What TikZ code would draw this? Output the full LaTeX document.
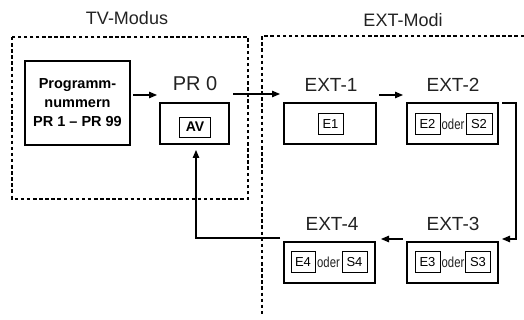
\documentclass[tikz,border=0pt]{standalone}
\usepackage{fontspec}
\setmainfont{Liberation Sans}
\newfontfamily\narrowfont[FakeStretch=0.78]{Liberation Sans}
\usetikzlibrary{arrows.meta}
\definecolor{ink}{HTML}{222222}
\tikzset{
  x=1pt,y=-1pt,
  title/.style={font=\fontsize{18}{20}\selectfont, text=ink, inner sep=0},
  lbl/.style={font=\fontsize{19}{21}\selectfont, text=ink, inner sep=0},
  outer/.style={draw, line width=1.2pt, minimum height=41pt, inner sep=0},
  inner/.style={draw, line width=0.9pt, minimum height=21pt, inner sep=0, font=\fontsize{13}{14}\selectfont},
  oder/.style={inner sep=0, font=\narrowfont\fontsize{14.5}{15}\selectfont, text=ink},
  dsh/.style={line width=1.3pt, dash pattern=on 3.5pt off 2.6pt},
  arr/.style={line width=1.1pt, -{Triangle[length=8pt,width=6.5pt]}},
}
\begin{document}
\begin{tikzpicture}
\useasboundingbox (0,0) rectangle (524,320);
% titles
\node[title] (tvt) at (127,18) {TV-Modus};
\node[title] (extt) at (403,20) {EXT-Modi};
% dashed regions
\draw[dsh] (12,37) rectangle (248,199);
\draw[dsh] (524,36) -- (262,36) -- (262,316);
% program numbers
\node[draw, line width=1.2pt, minimum width=105pt, minimum height=84pt, inner sep=0,
  align=center, font=\bfseries\fontsize{14.5}{19}\selectfont] (prog) at (77.5,103)
  {Programm-\\nummern\\PR 1 -- PR 99};
% PR 0
\node[lbl, font=\fontsize{20}{22}\selectfont] (pr0l) at (195,84) {PR 0};
\node[outer, minimum width=69pt] (pr0) at (194.5,123.5) {};
\node[inner, minimum width=31pt, minimum height=20pt, font=\bfseries\fontsize{14}{15}\selectfont] (av) at (195,127) {AV};
% EXT-1
\node[lbl] (e1l) at (331,85) {EXT-1};
\node[outer, minimum width=92pt] (ext1) at (330,123.5) {};
\node[inner, minimum width=25pt] (e1) at (330.5,124) {E1};
% EXT-2
\node[lbl] (e2l) at (453,85) {EXT-2};
\node[outer, minimum width=91pt] (ext2) at (452.5,123.5) {};
\node[inner, minimum width=25pt] (e2) at (427.5,124) {E2};
\node[oder] (o2) at (453,124) {oder};
\node[inner, minimum width=26pt] (s2) at (479,124) {S2};
% EXT-3
\node[lbl] (e3l) at (453,224) {EXT-3};
\node[outer, minimum width=91pt] (ext3) at (452.5,262.5) {};
\node[inner, minimum width=25pt] (e3) at (427.5,262) {E3};
\node[oder] (o3) at (453,262.5) {oder};
\node[inner, minimum width=25pt] (s3) at (478,262) {S3};
% EXT-4
\node[lbl] (e4l) at (332,224) {EXT-4};
\node[outer, minimum width=91pt] (ext4) at (329.5,262.5) {};
\node[inner, minimum width=24pt] (e4) at (303,262) {E4};
\node[oder] (o4) at (328.5,262.5) {oder};
\node[inner, minimum width=25pt] (s4) at (354.5,262) {S4};
% connector coordinates
\coordinate (c1a) at (133,95);  \coordinate (c1b) at (157,95);
\coordinate (c2a) at (233,94);  \coordinate (c2b) at (280,94);
\coordinate (c3a) at (379,95);  \coordinate (c3b) at (403,95);
\coordinate (c4a) at (502,103); \coordinate (c4b) at (516,103);
\coordinate (c4c) at (516,239); \coordinate (c4d) at (502,239);
\coordinate (c5a) at (403,239); \coordinate (c5b) at (381,239);
\coordinate (c6a) at (280,238); \coordinate (c6b) at (196,238);
\coordinate (c6c) at (196,150);
% connectors
\draw[arr] (c1a) -- (c1b);
\draw[arr] (c2a) -- (c2b);
\draw[arr] (c3a) -- (c3b);
\draw[arr] (c4a) -- (c4b) -- (c4c) -- (c4d);
\draw[arr] (c5a) -- (c5b);
\draw[arr] (c6a) -- (c6b) -- (c6c);
\end{tikzpicture}
\end{document}
